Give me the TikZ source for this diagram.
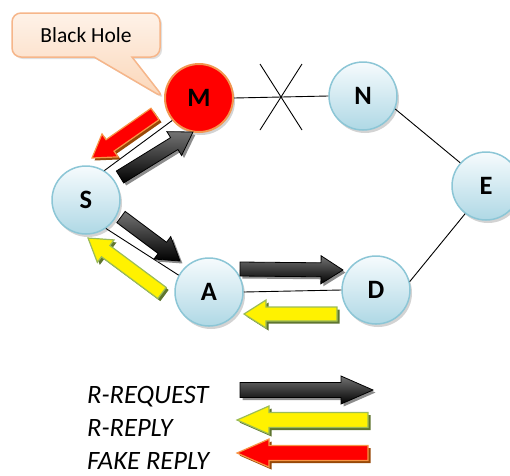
\documentclass[tikz,border=0pt]{standalone}
\usepackage{fontspec}
\setmainfont{Carlito}
\usetikzlibrary{shapes.callouts,shadows,calc}

\definecolor{hostedge}{RGB}{140,198,214}
\definecolor{hosttop}{RGB}{246,251,253}
\definecolor{hostbot}{RGB}{175,216,229}
\definecolor{holeedge}{RGB}{242,150,80}
\definecolor{calloutedge}{RGB}{246,182,138}
\definecolor{callouttop}{RGB}{254,242,232}
\definecolor{calloutbot}{RGB}{251,214,184}
\definecolor{replyedge}{RGB}{155,187,89}
\definecolor{replyshade}{RGB}{95,117,48}
\definecolor{fakeedge}{RGB}{247,150,70}
\definecolor{fakeshade}{RGB}{152,72,7}

\newcommand\hostfont{\fontsize{26.5}{26.5}\selectfont\bfseries}

\tikzset{
  host/.style={circle, minimum size=68pt, inner sep=0pt, draw=hostedge,
    line width=1.5pt, top color=hosttop, bottom color=hostbot,
    font=\hostfont,
    drop shadow={shadow xshift=2pt, shadow yshift=-3pt, opacity=0.35}},
  hole/.style={host, draw=holeedge, line width=2pt, top color=red, bottom color=red},
  link/.style={line width=0.9pt},
  reqarrow/.style={draw=black, line width=0.8pt, top color=black!55, bottom color=black},
  reparrow/.style={draw=replyedge, line width=1.2pt, fill=yellow},
  fakearrow/.style={draw=fakeedge, line width=1.2pt, fill=red},
  legendtext/.style={anchor=base west, inner sep=0pt, font=\itshape\fontsize{26.5}{26.5}\selectfont},
}

% block arrow: #1 body style, #2 shadow colour, from (#3,#4) to (#5,#6)
% sizes taken from \bahw (shaft half width), \bahh (head half width), \bahl (head length)
\newcommand\blockarrow[6]{%
  \pgfmathsetmacro\baang{atan2(-(#6-#4),#5-#3)}%
  \pgfmathsetmacro\balen{veclen(#5-#3,#6-#4)}%
  \pgfmathsetmacro\baneck{\balen-\bahl}%
  \begin{scope}[shift={(#3+2.5,#4+2.5)}, rotate=\baang]
    \fill[#2] (0,-\bahw) -- (\baneck,-\bahw) -- (\baneck,-\bahh) -- (\balen,0)
      -- (\baneck,\bahh) -- (\baneck,\bahw) -- (0,\bahw) -- cycle;
  \end{scope}
  \begin{scope}[shift={(#3,#4)}, rotate=\baang]
    \draw[#1, line join=miter] (0,-\bahw) -- (\baneck,-\bahw) -- (\baneck,-\bahh) -- (\balen,0)
      -- (\baneck,\bahh) -- (\baneck,\bahw) -- (0,\bahw) -- cycle;
  \end{scope}}

\begin{document}
\begin{tikzpicture}[x=1pt, y=-1pt]
  \useasboundingbox (0,0) rectangle (510,475);

  % hosts
  \node[hole] (M) at (199,98) {M};
  \node[host] (N) at (363,96) {N};
  \node[host] (E) at (486,186) {E};
  \node[host] (S) at (86,200) {S};
  \node[host] (A) at (209,292) {A};
  \node[host] (D) at (376,290) {D};

  % links
  \draw[link] (M.east) -- (N.west);
  \draw[link] (N.-22) -- (E.138);
  \draw[link] (E.233) -- (D.14);
  \draw[link] (S.58) -- (M.220);
  \draw[link] (S.-55) -- (A.151);
  \draw[link] (A.east) -- (D.west);

  % broken link between M and N
  \coordinate (cut) at (281,97);
  \draw[link] ($(cut)+(-21,-33)$) -- ($(cut)+(21,33)$);
  \draw[link] ($(cut)+(21,-33)$) -- ($(cut)+(-21,33)$);

  % callout naming the black hole
  \node[rectangle callout, rounded corners=9pt, minimum width=148pt, minimum height=44pt,
    draw=calloutedge, line width=1.5pt, top color=callouttop, bottom color=calloutbot,
    callout absolute pointer={(M.west)}, callout pointer width=38pt,
    font=\fontsize{21.5}{21.5}\selectfont,
    drop shadow={shadow xshift=2pt, shadow yshift=-2pt, opacity=0.25}] (bh) at (86,35) {Black Hole};

  % route messages
  \def\bahw{7}\def\bahh{14}\def\bahl{22}
  \blockarrow{fakearrow}{fakeshade}{155}{114}{92}{158}
  \blockarrow{reqarrow}{black!45}{120}{177}{193}{132}
  \blockarrow{reqarrow}{black!45}{121}{217}{180}{261}
  \blockarrow{reparrow}{replyshade}{162}{293}{88}{238}
  \blockarrow{reqarrow}{black!45}{240}{269}{343}{270}
  \blockarrow{reparrow}{replyshade}{337}{314}{244}{314}

  % legend
  \node[legendtext] (lreq) at (87,403) {R-REQUEST};
  \node[legendtext] (lrep) at (87,436) {R-REPLY};
  \node[legendtext] (lfake) at (87,469) {FAKE REPLY};
  \def\bahw{7.5}\def\bahh{14}\def\bahl{32}
  \blockarrow{reqarrow}{black!45}{240}{390}{373}{390}
  \blockarrow{reparrow}{replyshade}{368}{420}{237}{420}
  \blockarrow{fakearrow}{fakeshade}{368}{453}{237}{453}
\end{tikzpicture}
\end{document}
